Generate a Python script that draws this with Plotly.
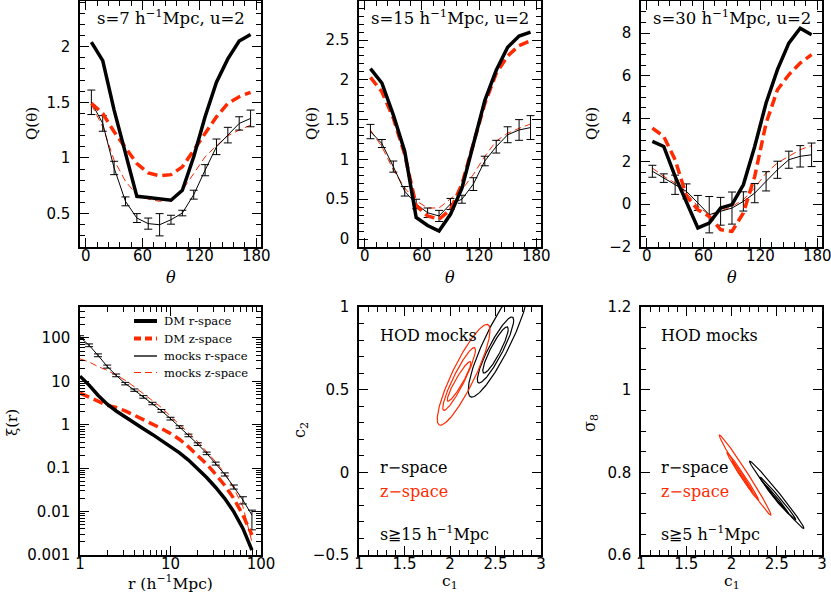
import numpy as np
import plotly.graph_objects as go
from plotly.subplots import make_subplots

# ---- data ------------------------------------------------------------------
theta = [6, 18, 30, 42, 54, 66, 78, 90, 102, 114, 126, 138, 150, 162, 174]

# s = 7
q7_dm_r = [2.04, 1.875, 1.43, 1.04, 0.655, 0.645, 0.635, 0.62, 0.71, 1.01, 1.37, 1.68, 1.89, 2.05, 2.11]
q7_dm_z = [1.49, 1.40, 1.235, 1.09, 0.95, 0.865, 0.84, 0.85, 0.92, 1.07, 1.22, 1.37, 1.49, 1.55, 1.59]
q7_mk_r = [1.50, 1.31, 0.91, 0.61, 0.46, 0.41, 0.40, 0.445, 0.505, 0.67, 0.89, 1.10, 1.205, 1.31, 1.355]
q7_mk_r_err = [0.11, 0.07, 0.06, 0.04, 0.04, 0.05, 0.10, 0.04, 0.025, 0.04, 0.05, 0.07, 0.07, 0.06, 0.075]
q7_mk_z = [1.48, 1.28, 0.98, 0.79, 0.67, 0.63, 0.61, 0.63, 0.71, 0.86, 1.01, 1.11, 1.20, 1.25, 1.295]

# s = 15
q15_dm_r = [2.14, 1.96, 1.56, 1.10, 0.27, 0.17, 0.10, 0.31, 0.64, 1.20, 1.74, 2.12, 2.41, 2.55, 2.60]
q15_dm_z = [2.03, 1.85, 1.52, 1.06, 0.42, 0.29, 0.25, 0.37, 0.69, 1.20, 1.70, 2.08, 2.30, 2.43, 2.49]
q15_mk_r = [1.35, 1.20, 0.91, 0.60, 0.44, 0.33, 0.29, 0.44, 0.50, 0.69, 0.98, 1.16, 1.31, 1.37, 1.40]
q15_mk_r_err = [0.09, 0.05, 0.07, 0.06, 0.06, 0.06, 0.07, 0.07, 0.05, 0.08, 0.06, 0.08, 0.10, 0.13, 0.15]
q15_mk_z = [1.37, 1.16, 0.87, 0.64, 0.48, 0.39, 0.39, 0.50, 0.62, 0.81, 1.04, 1.23, 1.33, 1.39, 1.445]

# s = 30
q30_dm_r = [2.94, 2.70, 1.30, 0.06, -1.11, -0.88, -0.18, -0.02, 0.91, 2.70, 4.73, 6.29, 7.53, 8.23, 7.92]
q30_dm_z = [3.56, 3.17, 2.08, 0.37, -0.26, -0.57, -1.19, -1.27, -0.41, 1.30, 3.79, 5.35, 6.05, 6.60, 6.99]
q30_mk_r = [1.54, 1.22, 0.91, 0.60, 0.06, -0.49, -0.33, -0.18, 0.13, 0.52, 1.07, 1.61, 2.08, 2.24, 2.31]
q30_mk_r_err = [0.28, 0.20, 0.45, 0.35, 0.35, 0.85, 0.65, 0.75, 0.45, 0.45, 0.45, 0.40, 0.40, 0.50, 0.55]
q30_mk_z = [1.69, 1.30, 0.99, 0.52, -0.10, -0.49, -0.33, -0.10, 0.21, 0.76, 1.46, 1.93, 2.24, 2.55, 2.74]

# correlation function
r_bins = [1.0, 1.26, 1.58, 2.0, 2.51, 3.16, 3.98, 5.01, 6.31, 7.94,
          10.0, 12.6, 15.8, 20.0, 25.1, 31.6, 39.8, 50.1, 63.1, 79.4]
xi_dm_r = [13.2, 8.2, 4.8, 2.97, 2.08, 1.5, 1.1, 0.81, 0.60, 0.44,
           0.32, 0.225, 0.154, 0.098, 0.061, 0.036, 0.020, 0.0099, 0.0041, 0.0013]
xi_dm_z = [5.4, 4.4, 3.5, 2.8, 2.5, 2.1, 1.66, 1.32, 1.07, 0.82,
           0.63, 0.46, 0.31, 0.20, 0.124, 0.072, 0.040, 0.020, 0.0083, 0.0029]
xi_mk_r = [105, 68, 40, 22, 13.8, 8.9, 6.3, 4.4, 3.1, 2.1,
           1.39, 0.89, 0.57, 0.36, 0.22, 0.128, 0.072, 0.037, 0.0185, 0.0083]
xi_mk_r_up = [8, 5, 3, 1.8, 1.0, 0.6, 0.4, 0.3, 0.2, 0.15,
              0.1, 0.06, 0.04, 0.025, 0.015, 0.01, 0.006, 0.004, 0.0035, 0.0025]
xi_mk_r_dn = [8, 5, 3, 1.8, 1.0, 0.6, 0.4, 0.3, 0.2, 0.15,
              0.1, 0.06, 0.04, 0.025, 0.015, 0.01, 0.006, 0.004, 0.0035, 0.0045]
xi_mk_z = [33, 28, 22, 18, 13.9, 10.6, 7.5, 5.2, 3.7, 2.5,
           1.58, 1.03, 0.65, 0.41, 0.24, 0.14, 0.076, 0.034, 0.013, 0.002]

legend_labels = ['DM r-space', 'DM z-space', 'mocks r-space', 'mocks z-space']

# confidence contours: (cx, cy, x half-extent, y half-extent, correlation)
c2_r_space = [(2.53, 0.80, 0.33, 0.345, 0.88), (2.50, 0.74, 0.20, 0.20, 0.90), (2.50, 0.74, 0.14, 0.14, 0.90)]
c2_z_space = [(2.15, 0.59, 0.29, 0.305, 0.88), (2.10, 0.565, 0.18, 0.19, 0.92), (2.10, 0.55, 0.13, 0.12, 0.93)]
s8_r_space = [(2.50, 0.7455, 0.30, 0.0815, -0.99), (2.51, 0.737, 0.20, 0.052, -0.99), (2.50, 0.735, 0.13, 0.035, -0.99)]
s8_z_space = [(2.15, 0.7935, 0.285, 0.097, -0.99), (2.125, 0.79, 0.175, 0.058, -0.99), (2.12, 0.79, 0.11, 0.037, -0.99)]

RED = '#ff2a00'
SERIF = 'DejaVu Serif'
SANS = 'DejaVu Sans'
W, H = 831, 595


def px(x):
    return x / W


def py(y):
    return 1 - y / H


def ellipse(cx, cy, ax, ay, rho, n=240):
    t = np.linspace(0, 2 * np.pi, n)
    phi = np.arccos(rho)
    return cx + ax * np.cos(t), cy + ay * np.cos(t - phi)


fig = make_subplots(rows=2, cols=3)

thick = dict(color='black', width=3.5)
thick_red = dict(color=RED, width=3.5, dash='10px,5px')
thin = dict(color='black', width=1)
thin_red = dict(color=RED, width=1, dash='7px,4px')
errbar = dict(type='data', color='black', thickness=1, width=4)

q_panels = [
    (q7_dm_r, q7_dm_z, q7_mk_r, q7_mk_r_err, q7_mk_z),
    (q15_dm_r, q15_dm_z, q15_mk_r, q15_mk_r_err, q15_mk_z),
    (q30_dm_r, q30_dm_z, q30_mk_r, q30_mk_r_err, q30_mk_z),
]
for col, (dm_r, dm_z, mk_r, mk_err, mk_z) in enumerate(q_panels, start=1):
    fig.add_trace(go.Scatter(x=theta, y=mk_z, mode='lines', line=thin_red), row=1, col=col)
    fig.add_trace(go.Scatter(x=theta, y=mk_r, mode='lines', line=thin,
                             error_y=dict(errbar, array=mk_err)), row=1, col=col)
    fig.add_trace(go.Scatter(x=theta, y=dm_z, mode='lines', line=thick_red), row=1, col=col)
    fig.add_trace(go.Scatter(x=theta, y=dm_r, mode='lines', line=thick), row=1, col=col)

# xi(r)
fig.add_trace(go.Scatter(x=r_bins, y=xi_mk_z, mode='lines', line=thin_red), row=2, col=1)
fig.add_trace(go.Scatter(x=r_bins, y=xi_mk_r, mode='lines', line=thin,
                         error_y=dict(errbar, array=xi_mk_r_up, arrayminus=xi_mk_r_dn)),
              row=2, col=1)
fig.add_trace(go.Scatter(x=r_bins, y=xi_dm_z, mode='lines', line=thick_red), row=2, col=1)
fig.add_trace(go.Scatter(x=r_bins, y=xi_dm_r, mode='lines', line=thick), row=2, col=1)

# contours
for col, groups in ((2, (c2_r_space, c2_z_space)), (3, (s8_r_space, s8_z_space))):
    for color, group in zip(('black', RED), groups):
        for p in group:
            ex, ey = ellipse(*p)
            fig.add_trace(go.Scatter(x=ex, y=ey, mode='lines',
                                     line=dict(color=color, width=1.2)), row=2, col=col)

# ---- axes ------------------------------------------------------------------
xdom = [[80 / W, 261 / W], [359 / W, 541 / W], [641 / W, 822 / W]]
ydom_top = [py(247), py(1)]
ydom_bot = [py(555), py(307)]

axis_common = dict(showline=True, mirror='ticks', linecolor='black', linewidth=1.5,
                   ticks='inside', ticklen=9, tickwidth=1, tickcolor='black',
                   showgrid=False, zeroline=False, automargin=False,
                   ticklabeloverflow='allow',
                   tickfont=dict(family=SANS, size=15, color='black'))
XSTAND = -6
YSTAND = 5


def minor(dt):
    return dict(ticks='inside', ticklen=5, tickwidth=1, tickcolor='black',
                dtick=dt, showgrid=False)


q_yranges = [([0.2, 2.41], 0.5, 0.1), ([-0.1, 2.99], 0.5, 0.1), ([-2, 9.5], 2, 0.5)]
for i in range(3):
    n = i + 1
    fig.update_xaxes(domain=xdom[i], range=[-6, 185], dtick=60, tick0=0,
                     minor=minor(12), ticklabelstandoff=XSTAND, **axis_common, row=1, col=n)
    rng, dt, mdt = q_yranges[i]
    fig.update_yaxes(domain=ydom_top, range=rng, dtick=dt, tick0=0,
                     minor=minor(mdt), ticklabelstandoff=YSTAND, **axis_common, row=1, col=n)

fig.update_xaxes(type='log', domain=xdom[0], range=[0, 2], dtick=1,
                 minor=minor('D1'), ticklabelstandoff=XSTAND, **axis_common, row=2, col=1)
fig.update_yaxes(type='log', domain=ydom_bot, range=[-3, 2.714], dtick=1,
                 minor=minor('D1'), ticklabelstandoff=YSTAND, **axis_common, row=2, col=1)

fig.update_xaxes(domain=xdom[1], range=[1, 3], dtick=0.5, tick0=1,
                 minor=minor(0.1), ticklabelstandoff=XSTAND, **axis_common, row=2, col=2)
fig.update_yaxes(domain=ydom_bot, range=[-0.5, 1], dtick=0.5, tick0=0,
                 minor=minor(0.1), ticklabelstandoff=YSTAND, **axis_common, row=2, col=2)
fig.update_xaxes(domain=xdom[2], range=[1, 3], dtick=0.5, tick0=1,
                 minor=minor(0.1), ticklabelstandoff=XSTAND, **axis_common, row=2, col=3)
fig.update_yaxes(domain=ydom_bot, range=[0.6, 1.2], dtick=0.2, tick0=0,
                 minor=minor(0.05), ticklabelstandoff=YSTAND, **axis_common, row=2, col=3)

# ---- text ------------------------------------------------------------------
notes = []


def note(text, x, y, size=15, color='black', angle=0, xanchor='center'):
    notes.append(dict(text=text, x=px(x), y=py(y), xref='paper', yref='paper',
                      showarrow=False, textangle=angle, xanchor=xanchor, yanchor='middle',
                      font=dict(family=SERIF, size=size, color=color)))


panel_titles = ['s=7 h<sup>−1</sup>Mpc, u=2', 's=15 h<sup>−1</sup>Mpc, u=2',
                's=30 h<sup>−1</sup>Mpc, u=2']
centers = [170.5, 450, 731.5]
for c, t, yx in zip(centers, panel_titles, [32, 312, 592]):
    note(t, c, 17, size=16.5)
    note('<i>θ</i>', c, 277, size=16)
    note('Q(θ)', yx, 124, size=15, angle=-90)

note('ξ(r)', 12, 423, size=15, angle=-90)
note('r (h<sup>−1</sup>Mpc)', 170.5, 582, size=15.5)
note('c<sub>2</sub>', 300, 430, size=16, angle=-90)
note('c<sub>1</sub>', 450, 582, size=15.5)
note('σ<sub>8</sub>', 590, 423, size=16, angle=-90)
note('c<sub>1</sub>', 731.5, 582, size=15.5)

for x0, slab in ((378, 's≧15 h<sup>−1</sup>Mpc'), (659, 's≧5 h<sup>−1</sup>Mpc')):
    note('HOD mocks', x0, 335, size=16, xanchor='left')
    note('r−space', x0, 467, size=16, xanchor='left')
    note('z−space', x0, 492, size=16, xanchor='left', color=RED)
    note(slab, x0, 533, size=16, xanchor='left')

# legend of the xi(r) panel, drawn by hand to match the compact layout
legend_rows = [321, 338.5, 356, 372.5]
legend_lines = [dict(color='black', width=4), dict(color=RED, width=4, dash='7px,4px'),
                dict(color='#555555', width=2), dict(color=RED, width=1, dash='7px,4px')]
shapes = []
for label, yrow, ln in zip(legend_labels, legend_rows, legend_lines):
    shapes.append(dict(type='line', xref='paper', yref='paper',
                       x0=px(134), x1=px(157), y0=py(yrow), y1=py(yrow), line=ln))
    note(label, 162, yrow, size=11.5, xanchor='left')

fig.update_traces(showlegend=False)
fig.update_layout(
    width=W, height=H,
    margin=dict(l=0, r=0, t=0, b=0),
    paper_bgcolor='white', plot_bgcolor='white',
    annotations=notes, shapes=shapes,
    showlegend=False,
)

# the page body has a default 8px margin; drop it so the figure fills the window
fig.write_html("out.html", config={'displayModeBar': False},
               post_script="document.body.style.margin='0px';")
